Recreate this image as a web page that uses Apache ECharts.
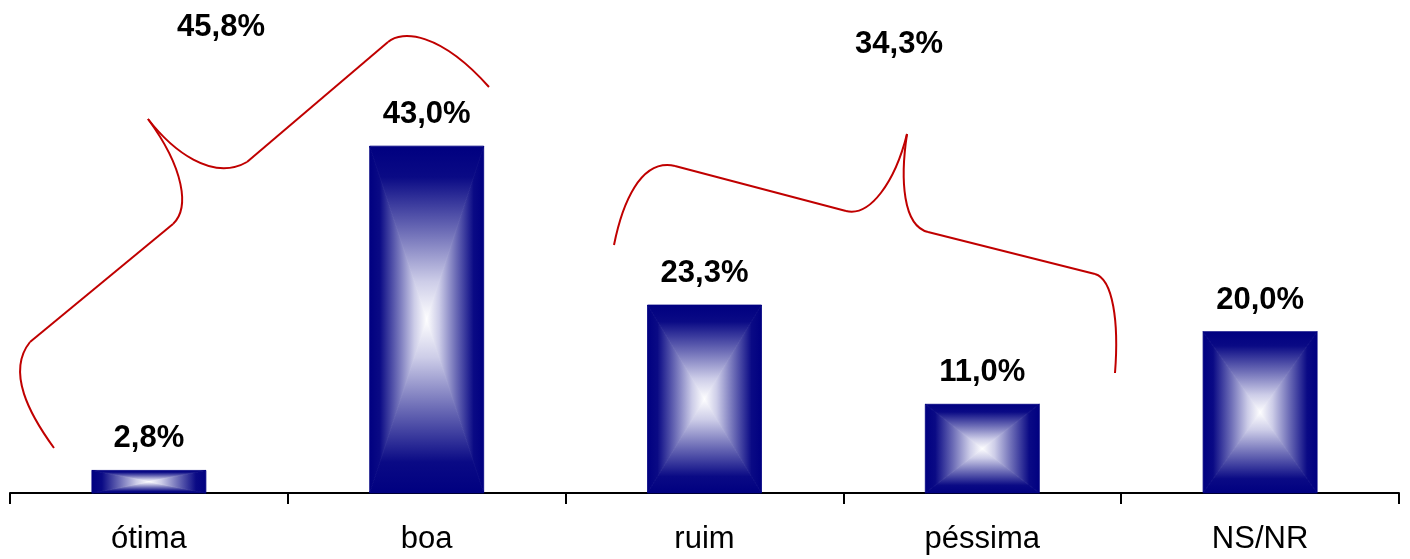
<!DOCTYPE html>
<html>
<head>
<meta charset="utf-8">
<script src="https://cdn.jsdelivr.net/npm/echarts@6/dist/echarts.min.js"></script>
<style>
  html, body { margin: 0; padding: 0; background: #ffffff; }
  #chart { width: 1410px; height: 559px; }
</style>
</head>
<body>
<div id="chart"></div>
<script>
// ---- data ----
const categories = ['ótima', 'boa', 'ruim', 'péssima', 'NS/NR'];
const values = [2.8, 43.0, 23.3, 11.0, 20.0];
const groupLabels = ['45,8%', '34,3%'];

const FONT = '"Liberation Sans", Arial, Helvetica, sans-serif';
const BAR_W = 114;
const RED = '#c00000';

function fmt(v) { return v.toFixed(1).replace('.', ',') + '%'; }

function grad(x2, y2, reverse) {
  const stops = [
    { offset: 0, color: '#000080' },
    { offset: 0.18, color: '#0a0a85' },
    { offset: 0.5, color: '#7070b8' },
    { offset: 0.78, color: '#cdcde8' },
    { offset: 1, color: '#ffffff' }
  ];
  const s = reverse ? stops.map(o => ({ offset: 1 - o.offset, color: o.color })).reverse() : stops;
  return { type: 'linear', x: 0, y: 0, x2: x2, y2: y2, colorStops: s, global: false };
}

function renderBar(params, api) {
  const top = api.coord([api.value(0), api.value(1)]);
  const base = api.coord([api.value(0), 0]);
  const l = top[0] - BAR_W / 2, r = top[0] + BAR_W / 2;
  const t = top[1], b = base[1];
  const cx = top[0], cy = (t + b) / 2;
  const tri = (pts, fill) => ({
    type: 'polygon',
    shape: { points: pts },
    style: { fill: fill, stroke: fill, lineWidth: 0.8 }
  });
  return {
    type: 'group',
    children: [
      tri([[l, t], [r, t], [cx, cy]], grad(0, 1, false)),
      tri([[l, b], [r, b], [cx, cy]], grad(0, 1, true)),
      tri([[l, t], [l, b], [cx, cy]], grad(1, 0, false)),
      tri([[r, t], [r, b], [cx, cy]], grad(1, 0, true))
    ]
  };
}

// brace segment helpers (decoration)
function bz(x1, y1, c1x, c1y, c2x, c2y, x2, y2) {
  return {
    type: 'bezierCurve',
    shape: { x1: x1, y1: y1, cpx1: c1x, cpy1: c1y, cpx2: c2x, cpy2: c2y, x2: x2, y2: y2 },
    style: { fill: null, stroke: RED, lineWidth: 2 },
    z: 10
  };
}
function ln(x1, y1, x2, y2) {
  return {
    type: 'line',
    shape: { x1: x1, y1: y1, x2: x2, y2: y2 },
    style: { stroke: RED, lineWidth: 2 },
    z: 10
  };
}

const chart = echarts.init(document.getElementById('chart'), null, { renderer: 'canvas' });

const option = {
  animation: false,
  backgroundColor: '#ffffff',
  grid: { left: 10, right: 11, top: 9, bottom: 66, containLabel: false },
  xAxis: {
    type: 'category',
    data: categories,
    boundaryGap: true,
    axisLine: { show: true, lineStyle: { color: '#000000', width: 2 } },
    axisTick: { show: true, length: 11, lineStyle: { color: '#000000', width: 2 } },
    axisLabel: { color: '#000000', fontFamily: FONT, fontSize: 31, margin: 31 }
  },
  yAxis: {
    type: 'value',
    min: 0,
    max: 60,
    show: false,
    splitLine: { show: false }
  },
  series: [
    {
      type: 'bar',
      data: values,
      barWidth: BAR_W,
      itemStyle: { color: 'rgba(0,0,0,0)' },
      label: {
        show: true,
        position: 'top',
        distance: 16,
        color: '#000000',
        fontFamily: FONT,
        fontWeight: 'bold',
        fontSize: 31,
        formatter: p => fmt(p.value)
      },
      z: 3
    },
    {
      type: 'custom',
      data: values.map((v, i) => [i, v]),
      encode: { x: 0, y: 1 },
      renderItem: renderBar,
      z: 2
    }
  ],
  graphic: [
    // left brace (ótima + boa)
    bz(54, 448, 30, 415, 6, 372, 30, 342),
    ln(30, 342, 173, 224),
    bz(173, 224, 190, 208, 184, 168, 148, 119),
    bz(148, 119, 172, 150, 212, 182, 247, 162),
    ln(247, 162, 388, 42),
    bz(388, 42, 402, 30, 440, 32, 489, 87),
    // right brace (ruim + péssima)
    bz(614, 245, 622, 205, 640, 158, 675, 166),
    ln(675, 166, 846, 211),
    bz(846, 211, 870, 217, 895, 182, 907, 134),
    bz(907, 134, 900, 180, 903, 226, 928, 232),
    ln(928, 232, 1095, 274),
    bz(1095, 274, 1113, 279, 1119, 322, 1115, 373),
    {
      type: 'text',
      style: {
        text: groupLabels[0], x: 221, y: 27.5,
        font: 'bold 31px ' + FONT, fill: '#000000',
        textAlign: 'center', textVerticalAlign: 'middle'
      },
      z: 10
    },
    {
      type: 'text',
      style: {
        text: groupLabels[1], x: 899, y: 44.5,
        font: 'bold 31px ' + FONT, fill: '#000000',
        textAlign: 'center', textVerticalAlign: 'middle'
      },
      z: 10
    }
  ]
};

chart.setOption(option);
</script>
</body>
</html>
